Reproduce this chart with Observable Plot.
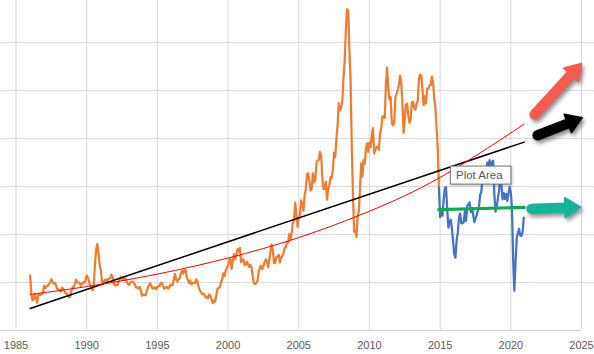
<!DOCTYPE html>
<html><head><meta charset="utf-8">
<script src="https://cdn.jsdelivr.net/npm/d3@7"></script>
<script src="https://cdn.jsdelivr.net/npm/@observablehq/plot@0.6"></script>
<style>body{margin:0;background:#fff}</style>
</head><body><div id="chart"></div>
<script>
// ---- data ----
const tickYears = [1985, 1990, 1995, 2000, 2005, 2010, 2015, 2020, 2025];
const gridValues = [20, 40, 60, 80, 100, 120];

// monthly prices, Jan 1986 .. Dec 2014 (orange series)
const orangeStart = 1986;
const orangePrices = [
22.93,15.46,12.61,12.84,15.38,13.43,11.59,15.10,14.87,14.90,15.22,16.11,
18.65,17.75,18.30,18.68,19.44,20.07,21.34,20.31,19.53,19.86,18.85,17.28,
17.13,16.80,16.20,17.86,17.42,16.53,15.50,15.52,14.54,13.77,14.14,16.38,
18.02,17.94,19.48,21.07,20.12,20.05,19.78,18.58,19.59,20.10,19.86,21.10,
22.86,22.11,20.39,18.43,18.20,16.70,18.45,27.31,33.51,36.04,32.33,27.28,
25.23,20.48,19.90,20.83,21.23,20.19,21.40,21.69,21.89,23.23,22.46,19.50,
18.79,19.01,18.92,20.23,20.98,22.39,21.78,21.34,21.88,21.69,20.34,19.41,
19.03,20.09,20.32,20.25,19.95,19.09,17.89,18.01,17.50,18.15,16.61,14.52,
15.03,14.78,14.68,16.42,17.89,19.06,19.66,18.38,17.45,17.72,18.07,17.16,
18.04,18.57,18.54,19.90,19.74,18.45,17.33,18.02,18.23,17.43,17.99,19.03,
18.85,19.09,21.33,23.50,21.17,20.42,21.30,21.90,23.97,24.88,23.71,25.23,
25.13,22.18,20.97,19.70,20.82,19.26,19.66,19.95,19.80,21.33,20.19,18.33,
16.72,16.06,15.12,15.35,14.91,13.72,14.17,13.47,15.03,14.46,13.00,11.35,
12.52,12.01,14.68,17.31,17.72,17.92,20.10,21.28,23.80,22.69,25.00,26.10,
27.26,29.37,29.84,25.72,28.79,31.82,29.70,31.26,33.88,33.11,34.42,28.44,
29.59,29.61,27.24,27.49,28.63,27.60,26.43,27.37,26.20,22.17,19.64,19.39,
19.72,20.72,24.53,26.18,27.04,25.52,26.97,28.39,29.66,28.84,26.35,29.46,
32.95,35.83,33.51,28.17,28.11,30.66,30.76,31.57,28.31,30.34,31.11,32.13,
34.31,34.69,36.74,36.75,40.28,38.03,40.78,44.90,45.94,53.28,48.47,43.15,
46.84,48.15,54.19,52.98,49.83,56.35,59.00,64.99,65.59,62.26,58.32,59.41,
65.49,61.63,62.69,69.44,70.84,70.95,74.41,73.04,63.80,58.89,59.08,61.96,
54.51,59.28,60.44,63.98,63.46,67.49,74.12,72.36,79.92,85.80,94.77,91.69,
92.97,95.39,105.45,112.58,125.40,133.88,133.37,116.67,104.11,76.61,57.31,41.12,
41.71,39.09,47.94,49.65,59.03,69.64,64.15,71.05,69.41,75.72,77.99,74.47,
78.33,76.39,81.20,84.29,73.74,75.34,76.32,76.60,75.24,81.89,84.25,89.15,
89.17,88.58,102.86,109.53,100.90,96.26,97.30,86.33,85.52,86.32,97.16,98.56,
100.27,102.20,106.16,103.32,94.66,82.30,87.90,94.13,94.51,89.49,86.53,87.86,
94.76,95.31,92.94,92.02,94.51,95.77,104.67,106.57,106.29,100.54,93.86,97.63,
94.62,100.82,100.80,102.07,102.18,105.79,103.59,96.54,93.21,84.40,75.79,59.29
];

// monthly prices, Dec 2014 .. Dec 2020 (blue series)
const blueStart = 2014 + 11 / 12;
const bluePrices = [
59.29,
47.22,50.58,47.82,54.45,59.27,59.82,50.90,42.87,45.48,46.22,42.44,37.19,
31.68,30.32,37.55,40.75,46.71,48.76,44.65,44.72,45.18,49.78,45.66,51.97,
52.50,53.47,49.33,51.06,48.48,45.18,46.63,48.04,49.82,51.58,56.64,57.88,
63.70,62.23,62.73,66.25,69.98,67.87,70.98,68.06,70.23,70.75,56.96,49.52,
51.38,54.95,58.15,63.86,60.83,54.66,57.35,54.81,56.95,53.96,57.03,59.88,
57.52,50.54,29.21,16.55,28.56,38.31,40.71,42.34,39.63,39.40,40.94,47.02
];

// trend lines
const linearTrendYears = [1986, 2020.95];
const linearTrendValues = [9.2, 78.5];
const expTrendYears = [1986, 1990, 1995, 2000, 2005, 2010, 2015, 2020.95];
const expTrendValues = [15, 18.3, 23.5, 30.2, 38.7, 49.7, 63.8, 86];
const flatYears = [2014.9, 2020.95];
const flatValues = [50.4, 51.3];

// annotation arrows: tail and tip (year, value)
const arrowNames = ["up", "trend", "flat"];
const arrowTailYears = [2021.68, 2021.89, 2021.46];
const arrowTailValues = [90.0, 81.3, 50.7];
const arrowTipYears = [2025.0, 2025.05, 2024.93];
const arrowTipValues = [111.3, 88.6, 51.4];
const arrowColors = ["#f85a4d", "#000000", "#13b59a"];

// tooltip label
const tipText = "Plot Area";
const tipBox = {x1: 2015.76, x2: 2020.04, y1: 60.8, y2: 68.3};
const tipAnchor = {x: 2016.12, y: 64.6};

// ---- layout ----
const W = 594, H = 354, MB = 24;
const pxPerYear = 565.5 / 40;
const xDomain = [1985 - 15.5 / pxPerYear, 2025 + 13 / pxPerYear];
const yDomain = [0, 330 / 2.4];

const orange = orangePrices.map((v, i) => ({x: orangeStart + i / 12, y: v}));
const blue = bluePrices.map((v, i) => ({x: blueStart + i / 12, y: v}));
const linTrend = linearTrendYears.map((x, i) => ({x, y: linearTrendValues[i]}));
const expTrend = expTrendYears.map((x, i) => ({x, y: expTrendValues[i]}));
const flat = flatYears.map((x, i) => ({x, y: flatValues[i]}));

const sx = Plot.scale({x: {domain: xDomain, range: [0, W]}});
const sy = Plot.scale({y: {domain: yDomain, range: [H - MB, 0]}});
const arrows = arrowNames.map((name, i) => {
  const x0 = sx.apply(arrowTailYears[i]), y0 = sy.apply(arrowTailValues[i]);
  const x1 = sx.apply(arrowTipYears[i]), y1 = sy.apply(arrowTipValues[i]);
  const dx = x1 - x0, dy = y1 - y0;
  return {name, x: arrowTailYears[i], y: arrowTailValues[i],
          len: Math.hypot(dx, dy), rot: Math.atan2(dx, -dy) * 180 / Math.PI,
          color: arrowColors[i]};
});

const blockArrow = {
  draw(ctx, l) {
    const w = 4.4, h = 10, hl = 15.5;
    ctx.moveTo(w, 0);
    ctx.arc(0, 0, w, 0, Math.PI);
    ctx.lineTo(-w, hl - l);
    ctx.lineTo(-h, hl - l);
    ctx.lineTo(0, -l);
    ctx.lineTo(h, hl - l);
    ctx.lineTo(w, hl - l);
    ctx.closePath();
  }
};

const grid = "#d9d9d9";
const chart = Plot.plot({
  width: W, height: H,
  marginLeft: 0, marginRight: 0, marginTop: 0, marginBottom: MB,
  style: {fontFamily: "'Liberation Sans', Arial, sans-serif", fontSize: "11px", background: "#fff", overflow: "visible"},
  x: {domain: xDomain, axis: null},
  y: {domain: yDomain, axis: null},
  length: {type: "identity"},
  marks: [
    Plot.ruleY(gridValues, {stroke: grid, strokeWidth: 1}),
    Plot.ruleX(tickYears, {y1: 0, y2: yDomain[1], stroke: grid, strokeWidth: 1}),
    Plot.ruleY([0], {x1: xDomain[0], x2: 2025, stroke: "#d0d0d0", strokeWidth: 1}),
    Plot.text(tickYears, {x: d => d, y: 0, text: d => String(d), dy: 15, fill: "#595959", fontSize: 11}),
    Plot.line(orange, {x: "x", y: "y", stroke: "#ed7d31", strokeWidth: 2.25, strokeLinejoin: "round"}),
    Plot.line(blue, {x: "x", y: "y", stroke: "#4472c4", strokeWidth: 2.25, strokeLinejoin: "round"}),
    Plot.line(linTrend, {x: "x", y: "y", stroke: "#000", strokeWidth: 1.5}),
    Plot.line(expTrend, {x: "x", y: "y", stroke: "#ff0000", strokeWidth: 1, curve: "natural"}),
    Plot.line(flat, {x: "x", y: "y", stroke: "#00b050", strokeWidth: 3.2}),
    ...arrows.map(a => Plot.vector([a], {x: "x", y: "y", length: "len", rotate: "rot", anchor: "start",
      shape: blockArrow, fill: a.color, stroke: a.color, strokeWidth: 1.5, strokeLinejoin: "round"})),
    Plot.rect([tipBox], {x1: "x1", x2: "x2", y1: "y1", y2: "y2", fill: "#fff", stroke: "#767676", strokeWidth: 1}),
    Plot.text([tipAnchor], {x: "x", y: "y", text: () => tipText, textAnchor: "start", fill: "#575757", fontSize: 11.5})
  ]
});
chart.querySelectorAll('g[aria-label="vector"]').forEach(g => {
  g.style.filter = "drop-shadow(2px 3px 2px rgba(0,0,0,0.45))";
});
chart.querySelectorAll('g[aria-label="rect"]').forEach(g => {
  g.style.filter = "drop-shadow(1px 1px 1px rgba(0,0,0,0.25))";
});
document.getElementById("chart").appendChild(chart);
</script>
</body></html>
